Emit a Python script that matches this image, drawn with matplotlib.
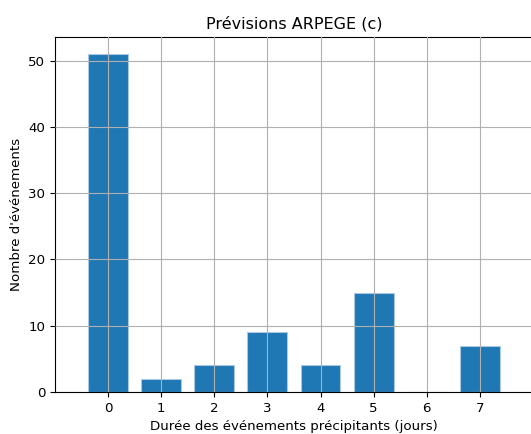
import matplotlib.pyplot as plt

durees = [0, 1, 2, 3, 4, 5, 6, 7]
nombres = [51, 2, 4, 9, 4, 15, 0, 7]

plt.rcParams['font.size'] = 9.6
plt.rcParams['xtick.major.size'] = 3.4
plt.rcParams['ytick.major.size'] = 3.4

fig = plt.figure(figsize=(5.31, 4.34), dpi=100)
ax = fig.add_axes([0.1036, 0.0968, 0.9, 0.8179])

ax.bar(durees, nombres, width=0.75, color='#1f77b4', edgecolor='#a9c9e3', linewidth=0.8)
ax.set_axisbelow(False)
ax.grid(True, color='#b0b0b0', linewidth=0.8)

ax.set_xlim(-1, 8)
ax.set_ylim(0, 53.55)
ax.set_xticks(durees)
ax.set_yticks([0, 10, 20, 30, 40, 50])

ax.set_title('Prévisions ARPEGE (c)', fontsize=11.5)
ax.set_xlabel('Durée des événements précipitants (jours)')
ax.set_ylabel("Nombre d'événements")

fig.savefig('out.png', dpi=100)
